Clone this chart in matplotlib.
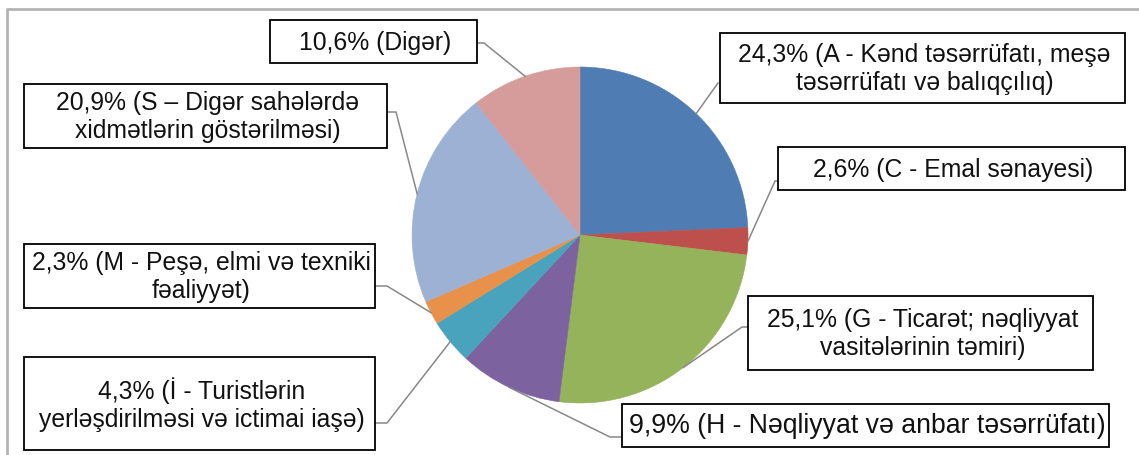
import numpy as np
import matplotlib.pyplot as plt
from matplotlib.patches import Rectangle

# sahələr üzrə pay, %
values = [24.3, 2.6, 25.1, 9.9, 4.3, 2.3, 20.9, 10.6]
sectors = [
    "A - Kənd təsərrüfatı, meşə\ntəsərrüfatı və balıqçılıq",
    "C - Emal sənayesi",
    "G - Ticarət; nəqliyyat\nvasitələrinin təmiri",
    "H - Nəqliyyat və anbar təsərrüfatı",
    "İ - Turistlərin\nyerləşdirilməsi və ictimai iaşə",
    "M - Peşə, elmi və texniki\nfəaliyyət",
    "S – Digər sahələrdə\nxidmətlərin göstərilməsi",
    "Digər",
]
colors = ["#4f7db3", "#bd4f4c", "#94b35a", "#7d62a0",
          "#4aa3bd", "#e8914a", "#9db1d5", "#d69c9b"]

# etiket qutuları (sol, yuxarı, sağ, aşağı) və xətlərin dirsək nöqtələri, pikseldə
boxes = [(720, 34, 1125, 104), (778, 148, 1125, 191), (748, 297, 1093, 371),
         (622, 405, 1109, 448), (24, 358, 375, 451), (24, 245, 375, 309),
         (24, 85, 387, 149), (270, 21, 477, 64)]
elbows = [[(718, 84)], [(775, 182), (778, 182)], [(742, 328), (748, 328)],
          [(610, 438), (622, 438)], [(387, 424), (375, 424)],
          [(387, 287), (375, 287)], [(396, 113), (387, 113)],
          [(484, 44), (477, 44)]]
fsizes = [17.8, 17.8, 17.8, 19.2, 17.8, 17.8, 17.8, 17.8]

W, H = 1139, 456
fig = plt.figure(figsize=(W / 100, H / 100), dpi=100)
ax = fig.add_axes([0, 0, 1, 1])

cx, cy, r = 580, H - 236, 168
wedges, _ = ax.pie(values, colors=colors, center=(cx, cy), radius=r,
                   startangle=90, counterclock=False)
for w in wedges:
    w.set_edgecolor(w.get_facecolor())
    w.set_linewidth(0.4)
ax.set_xlim(0, W)
ax.set_ylim(0, H)
ax.axis('off')

# çərçivə
ax.plot([7, 7, W], [0, H - 10, H - 10], color='#b4b4b4', lw=2, zorder=0)

for w, v, s, (l, t, rr, b), el, fs in zip(wedges, values, sectors, boxes,
                                          elbows, fsizes):
    ang = np.deg2rad((w.theta1 + w.theta2) / 2)
    pts = [(cx + r * np.cos(ang), cy + r * np.sin(ang))]
    pts += [(x, H - y) for x, y in el]
    xs, ys = zip(*pts)
    ax.plot(xs, ys, color='#888888', lw=1.1, zorder=3)
    ax.add_patch(Rectangle((l, H - b), rr - l, b - t, facecolor='white',
                           edgecolor='black', lw=1.3, zorder=4))
    txt = f"{v:.1f}%".replace('.', ',') + " (" + s + ")"
    ax.text((l + rr) / 2 + 2, H - (t + b) / 2, txt, ha='center', va='center',
            fontsize=fs, family='Liberation Sans', linespacing=1.2,
            color='#111111', zorder=5)

plt.savefig('out.png', dpi=100)
